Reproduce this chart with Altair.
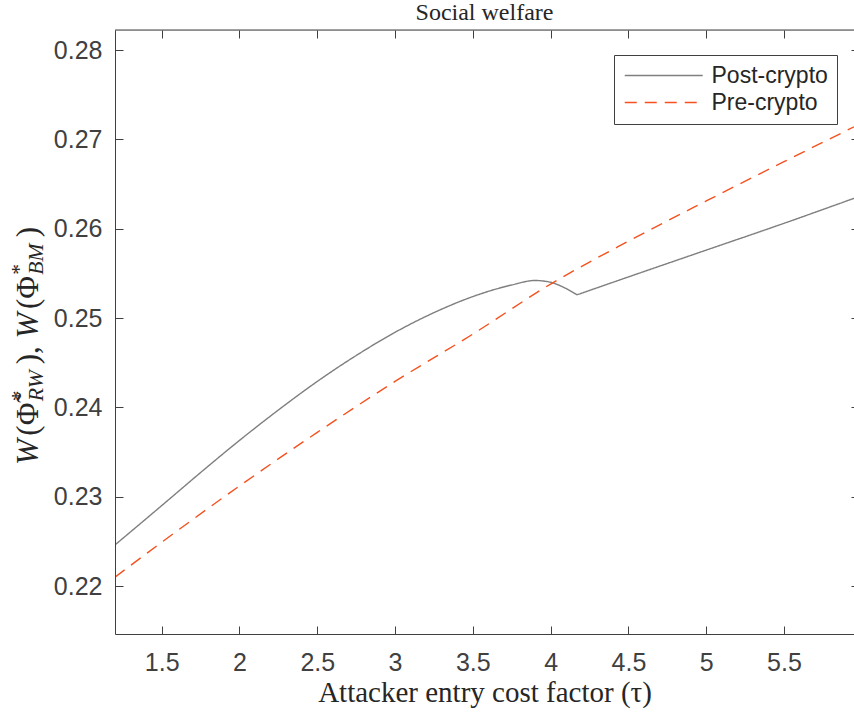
import altair as alt
import pandas as pd

# ---- data ----
post_tau = [1.2, 1.5, 1.75, 2.0, 2.25, 2.5, 2.75, 3.0, 3.25, 3.5, 3.75, 3.9, 4.0, 4.05, 4.11, 4.17, 4.5, 5.0, 5.5, 5.95]
post_w = [0.2246, 0.2290, 0.2327, 0.2363, 0.2397, 0.2429, 0.2458, 0.2484, 0.2506, 0.2524, 0.2537, 0.2542, 0.2540, 0.2537, 0.2532, 0.2526, 0.2546, 0.2576, 0.2606, 0.2634]
post_kink = 4.17  # the curve has a sharp corner here

pre_tau = [1.2, 1.5, 2.0, 2.5, 3.0, 3.5, 4.0, 4.5, 5.0, 5.5, 5.95]
pre_w = [0.2210, 0.2249, 0.2312, 0.2372, 0.2429, 0.2482, 0.2538, 0.2586, 0.2631, 0.2675, 0.2714]

series_names = ["Post-crypto", "Pre-crypto"]
x_ticks = [1.5, 2, 2.5, 3, 3.5, 4, 4.5, 5, 5.5]
y_ticks = [0.22, 0.23, 0.24, 0.25, 0.26, 0.27, 0.28]

rows = []
for t, w in zip(post_tau, post_w):
    if t <= post_kink:
        rows.append({"tau": t, "w": w, "series": series_names[0], "seg": "a"})
    if t >= post_kink:
        rows.append({"tau": t, "w": w, "series": series_names[0], "seg": "b"})
for t, w in zip(pre_tau, pre_w):
    rows.append({"tau": t, "w": w, "series": series_names[1], "seg": "a"})
df = pd.DataFrame(rows)

AX = "#404040"
TXT = "#262626"
W_PX, H_PX = 739, 604
TICK = 8
xs = alt.Scale(domain=[1.2, 5.95], nice=False, zero=False)
ys = alt.Scale(domain=[0.21463, 0.28224], nice=False, zero=False)

# inward tick marks on all four sides: dashed grid lines whose only dashes sit at the plot edges
x_axis = alt.Axis(
    values=x_ticks, format="~g", ticks=False, tickSize=0, labelPadding=16,
    grid=True, gridColor=AX, gridWidth=1, gridOpacity=1,
    gridDash=[TICK, H_PX - 2 * TICK, TICK, 1000], zindex=1,
    labelFont="Liberation Sans", labelFontSize=25, labelColor=AX,
    domainColor=AX, domainWidth=1,
    title="Attacker entry cost factor (τ)", titleFont="Liberation Serif",
    titleFontSize=29, titleFontWeight="normal", titleColor=TXT, titlePadding=3)
y_axis = alt.Axis(
    values=y_ticks, format=".2f", ticks=False, tickSize=0, labelPadding=13,
    grid=True, gridColor=AX, gridWidth=1, gridOpacity=1,
    gridDash=[TICK, W_PX - TICK - 3, 3, 1000], zindex=1,
    labelFont="Liberation Sans", labelFontSize=25, labelColor=AX,
    domainColor=AX, domainWidth=1, title="")

legend = alt.Legend(
    title=None, orient="none", legendX=499, legendY=25,
    symbolType="M-1,0H7", symbolSize=380, symbolStrokeWidth=1.3,
    labelFont="Liberation Sans", labelFontSize=23, labelColor=TXT,
    labelOffset=65.5, padding=9, rowPadding=3,
    strokeColor="#404040", fillColor="white",
)

lines = alt.Chart(df).mark_line(strokeWidth=1.4, interpolate="monotone", clip=True).encode(
    x=alt.X("tau:Q", scale=xs, axis=x_axis),
    y=alt.Y("w:Q", scale=ys, axis=y_axis),
    color=alt.Color("series:N", scale=alt.Scale(domain=series_names, range=["#7f7f7f", "#f4511e"]), legend=legend),
    strokeDash=alt.StrokeDash("series:N", scale=alt.Scale(domain=series_names, range=[[1, 0], [12, 8]]), legend=legend),
    detail="seg:N",
)

top_border = alt.Chart(pd.DataFrame({"k": [0]})).mark_rule(color=AX, strokeWidth=1).encode(
    x=alt.value(0), x2=alt.value(W_PX), y=alt.value(0))

# ---- y-axis title W(Φ̃*_RW), W(Φ*_BM) typeset from pieces (rotated) ----
F = 31
SUB = 0.7 * F
ylab_pieces = [
    # text, size, italic, baseline shift (px, + = sub), advance in em of F
    ("W", F, True, 0, 0.944),
    ("(Φ̃", F, False, 0, 1.111),
    ("*", SUB, False, -12, 0.0),
    ("RW", SUB, True, 5, 1.192),
    ("), ", F, False, 0, 0.834),
    ("W", F, True, 0, 0.944),
    ("(Φ", F, False, 0, 1.111),
    ("*", SUB, False, -12, 0.0),
    ("BM", SUB, True, 5, 1.21),
    (")", F, False, 0, 0.389),
]
total = sum(p[4] for p in ylab_pieces) * F
ylab_center = 345 - 30  # plot-relative
base_x = -77
pos = ylab_center + total / 2
ylab_layers = []
for text, size, ital, shift, adv in ylab_pieces:
    ylab_layers.append(
        alt.Chart(pd.DataFrame({"k": [0]})).mark_text(
            text=text, angle=270, align="left", baseline="alphabetic",
            font="Liberation Serif", fontSize=size, fontStyle="italic" if ital else "normal",
            color=TXT,
        ).encode(x=alt.value(base_x + shift), y=alt.value(pos))
    )
    pos -= adv * F

chart = alt.layer(
    lines, top_border, *ylab_layers
).properties(
    width=W_PX, height=H_PX,
    title=alt.TitleParams("Social welfare", font="Liberation Serif", fontSize=24,
                          fontWeight="normal", color=TXT, offset=5, anchor="middle"),
    autosize=alt.AutoSizeParams(type="none"),
    padding={"left": 115, "top": 30, "right": 0, "bottom": 79},
).configure_view(stroke=None).configure(background="white")

chart.save("out.html", embed_options={"renderer": "svg", "actions": False})
